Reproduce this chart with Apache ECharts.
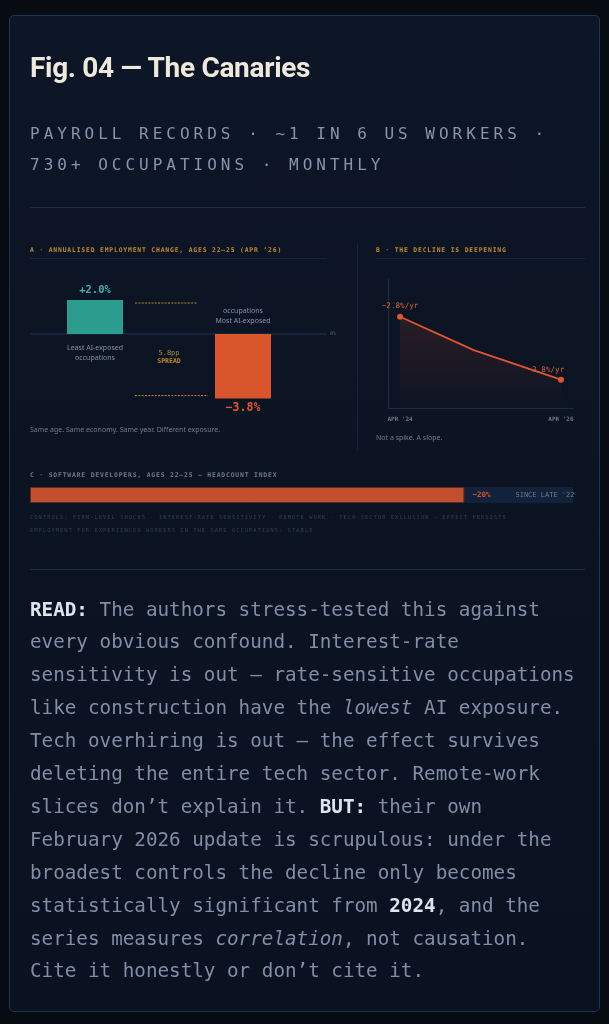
<!DOCTYPE html>
<html>
<head>
<meta charset="utf-8">
<script src="https://cdn.jsdelivr.net/npm/echarts@6.0.0/dist/echarts.min.js"></script>
<style>
html, body { margin: 0; padding: 0; width: 609px; height: 1024px; overflow: hidden; background: #070b12; }
#card { position: absolute; left: 9px; top: 15px; width: 589px; height: 995px; border: 1px solid #1f3352; border-radius: 5px;
  background: linear-gradient(#0d1626, #0a1120); }
#main { position: absolute; left: 0; top: 0; width: 609px; height: 1024px; z-index: 2; }
.t { position: absolute; white-space: nowrap; z-index: 3; }
.rule { position: absolute; z-index: 1; background: #1c2e48; }
.mono { font-family: "DejaVu Sans Mono", monospace; }
.h1 { left: 30px; top: 52px; font: 700 28px/32px Roboto, sans-serif; color: #efe9dc; letter-spacing: -0.3px; }
.sub { left: 30px; top: 117.5px; font-size: 16px; line-height: 31px; letter-spacing: 4px; color: #8596ad; }
.ptitle { font-size: 6.4px; line-height: 8px; letter-spacing: 0.82px; font-weight: 700; color: #c08a2c; }
.cap { font: 7px/10px "Noto Sans", sans-serif; color: #6f7b8d; }
.ctrl { font-size: 5.4px; line-height: 8px; letter-spacing: 1.05px; color: #2f3f56; }
.read { left: 30px; top: 593.5px; font-size: 19.25px; line-height: 32.9px; color: #828ea3; }
.read b { color: #dfe5ee; }
</style>
</head>
<body>
<div id="card"></div>

<div class="t h1">Fig. 04 — The Canaries</div>
<div class="t mono sub">PAYROLL RECORDS · ~1 IN 6 US WORKERS ·<br>730+ OCCUPATIONS · MONTHLY</div>
<div class="rule" style="left:30px;top:207px;width:555px;height:1px"></div>

<div class="t mono ptitle" style="left:30px;top:246px">A · ANNUALISED EMPLOYMENT CHANGE, AGES 22–25 (APR ’26)</div>
<div class="rule" style="left:30px;top:258px;width:297px;height:1px;background:#15243a"></div>
<div class="rule" style="left:357px;top:243px;width:1px;height:207px;background:#15243a"></div>
<div class="t mono ptitle" style="left:376px;top:246px">B · THE DECLINE IS DEEPENING</div>
<div class="rule" style="left:376px;top:258px;width:209px;height:1px;background:#15243a"></div>
<div class="t cap" style="left:30px;top:425px">Same age. Same economy. Same year. Different exposure.</div>
<div class="t cap" style="left:376px;top:433px">Not a spike. A slope.</div>

<div class="t mono ptitle" style="left:30px;top:471px;color:#6c788a">C · SOFTWARE DEVELOPERS, AGES 22–25 — HEADCOUNT INDEX</div>
<div class="t mono ctrl" style="left:30px;top:513px">CONTROLS: FIRM-LEVEL SHOCKS · INTEREST-RATE SENSITIVITY · REMOTE WORK · TECH-SECTOR EXCLUSION — EFFECT PERSISTS</div>
<div class="t mono ctrl" style="left:30px;top:526px">EMPLOYMENT FOR EXPERIENCED WORKERS IN THE SAME OCCUPATIONS: STABLE</div>
<div class="rule" style="left:30px;top:569px;width:555px;height:1px"></div>

<div class="t mono read"><b>READ:</b> The authors stress-tested this against<br>every obvious confound. Interest-rate<br>sensitivity is out — rate-sensitive occupations<br>like construction have the <i>lowest</i> AI exposure.<br>Tech overhiring is out — the effect survives<br>deleting the entire tech sector. Remote-work<br>slices don’t explain it. <b>BUT:</b> their own<br>February 2026 update is scrupulous: under the<br>broadest controls the decline only becomes<br>statistically significant from <b>2024</b>, and the<br>series measures <i>correlation</i>, not causation.<br>Cite it honestly or don’t cite it.</div>

<div id="main"></div>
<script>
// A: annualised employment change, ages 22-25 (Apr '26)
const groups = ['Least AI-exposed', 'spread', 'Most AI-exposed'];
const groupNotes = ['Least AI-exposed\noccupations', '', 'occupations\nMost AI-exposed'];
const changePct = [2.0, null, -3.8];

// B: the decline is deepening
const monthsSinceApr24 = [0, 11, 24];
const declinePerYr = [-2.8, -3.33, -3.8];
const monthTicks = [0, 24];
const monthTickLabels = ["APR '24", "APR '26"];

// C: software developers, headcount index
const devRows = ['Software developers, 22–25'];
const devIndex = [80];
const devBase = 100;

const MONO = 'DejaVu Sans Mono';
const SANS = 'Noto Sans';
const TEAL = '#2a9d8f', ORANGE = '#d9552b', AMBER = '#c08a2c';

function pct(v) {
    return (v > 0 ? '+' : '−') + Math.abs(v).toFixed(1) + '%';
}

const lastB = monthsSinceApr24.length - 1;

const option = {
    animation: false,
    grid: [
        { left: 58, top: 291.5, width: 222, height: 119, outerBoundsMode: 'none' },
        { left: 388, top: 279, width: 185, height: 129, outerBoundsMode: 'none' },
        { left: 30, top: 487, width: 543, height: 16, outerBoundsMode: 'none' }
    ],
    xAxis: [
        { gridIndex: 0, type: 'category', data: groups, show: false },
        {
            gridIndex: 1, type: 'value', min: -1.8, max: 25.8,
            axisLine: { show: true, onZero: false, lineStyle: { color: '#1b2b44', width: 1.2 } },
            axisTick: { show: false },
            splitLine: { show: false },
            axisLabel: {
                customValues: monthTicks,
                formatter: v => monthTickLabels[monthTicks.indexOf(v)] || '',
                color: '#6e7888', fontFamily: MONO, fontSize: 6, fontWeight: 'bold', margin: 8
            }
        },
        { gridIndex: 2, type: 'value', min: 0, max: devBase, show: false }
    ],
    yAxis: [
        { gridIndex: 0, type: 'value', min: -4.5, max: 2.5, show: false },
        {
            gridIndex: 1, type: 'value', min: -4.25, max: -2.2,
            axisLine: { show: true, onZero: false, lineStyle: { color: '#1b2b44', width: 1.2 } },
            axisTick: { show: false }, axisLabel: { show: false }, splitLine: { show: false }
        },
        { gridIndex: 2, type: 'category', data: devRows, show: false }
    ],
    series: [
        {
            name: 'change', type: 'bar', xAxisIndex: 0, yAxisIndex: 0,
            barWidth: 56, barGap: '-100%',
            data: changePct.map(v => v == null ? '-' : {
                value: v,
                itemStyle: { color: v > 0 ? TEAL : ORANGE },
                label: {
                    show: true, position: v > 0 ? 'top' : 'bottom', distance: v > 0 ? 4.5 : 3.5,
                    formatter: pct(v), fontFamily: MONO, fontSize: v > 0 ? 10.5 : 11.5, fontWeight: 'bold',
                    color: v > 0 ? '#3cb4a3' : '#e2562e'
                }
            })
        },
        {
            name: 'group', type: 'bar', xAxisIndex: 0, yAxisIndex: 0,
            barWidth: 56, barGap: '-100%', silent: true,
            itemStyle: { color: 'rgba(0,0,0,0)' },
            data: changePct.map((v, i) => v == null ? '-' : {
                value: v,
                label: {
                    show: true, position: v > 0 ? 'bottom' : 'top', distance: v > 0 ? 9 : 8,
                    formatter: groupNotes[i], fontFamily: SANS, fontSize: 7, lineHeight: 10,
                    color: '#8591a3'
                }
            })
        },
        {
            name: 'decline', type: 'line', xAxisIndex: 1, yAxisIndex: 1,
            symbolSize: 6, showSymbol: true,
            lineStyle: { color: '#e0552e', width: 1.8 },
            itemStyle: { color: '#e0552e' },
            areaStyle: {
                origin: 'start',
                color: {
                    type: 'linear', x: 0, y: 0, x2: 0, y2: 1,
                    colorStops: [
                        { offset: 0, color: 'rgba(224,85,46,0.2)' },
                        { offset: 1, color: 'rgba(224,85,46,0.02)' }
                    ]
                }
            },
            data: monthsSinceApr24.map((m, i) => {
                const ends = i === 0 || i === lastB;
                return {
                    value: [m, declinePerYr[i]],
                    symbol: ends ? 'circle' : 'none',
                    label: {
                        show: ends, position: 'top',
                        distance: i === 0 ? 3.5 : 2.5,
                        offset: i === 0 ? [0, 0] : [-15, 0],
                        formatter: pct(declinePerYr[i]) + '/yr',
                        fontFamily: MONO, fontSize: 7.6, color: '#d8613a'
                    }
                };
            })
        },
        {
            name: 'headcount', type: 'bar', xAxisIndex: 2, yAxisIndex: 2,
            barWidth: 16, showBackground: true,
            backgroundStyle: { color: '#12223a' },
            itemStyle: { color: '#c2502f', borderColor: '#5e2b1f', borderWidth: 1 },
            data: devIndex,
            label: {
                show: true, position: 'right', distance: 8,
                formatter: p => '{a|' + pct(p.value - devBase).replace('.0', '') + '}{b|SINCE LATE \'22}',
                rich: {
                    a: { fontFamily: MONO, fontSize: 7.5, fontWeight: 'bold', color: '#d4552c' },
                    b: { fontFamily: MONO, fontSize: 7, color: '#6e7888', padding: [0, 0, 0, 25] }
                }
            }
        }
    ]
};

const chart = echarts.init(document.getElementById('main'), null, { renderer: 'canvas' });
chart.setOption(option);

// reference lines for panel A, placed through the chart's own scales
const toPx = (cat, v) => chart.convertToPixel({ xAxisIndex: 0, yAxisIndex: 0 }, [cat, v]);
const y0 = toPx(0, 0)[1];
const midX = toPx(1, 0)[0];
const yHi = toPx(1, changePct[0])[1] + 3;
const yLo = toPx(1, changePct[2])[1] - 3;
const spread = (changePct[0] - changePct[2]).toFixed(1);
const dash = { stroke: AMBER, lineWidth: 1, lineDash: [2, 1.3] };

chart.setOption({
    graphic: [
        { type: 'line', silent: true, z: 1, shape: { x1: 30, y1: y0, x2: 327, y2: y0 }, style: { stroke: '#1f3556', lineWidth: 1.2 } },
        { type: 'text', silent: true, x: 330, y: y0, style: { text: '0%', fill: '#56627a', font: '5px ' + MONO, verticalAlign: 'middle' } },
        { type: 'line', silent: true, shape: { x1: midX - 34, y1: yHi, x2: midX + 28, y2: yHi }, style: dash },
        { type: 'line', silent: true, shape: { x1: midX - 34, y1: yLo, x2: midX + 39, y2: yLo }, style: dash },
        {
            type: 'text', silent: true, x: midX, y: (yHi + yLo) / 2 + 8,
            style: {
                text: '{n|' + spread + 'pp}\n{s|SPREAD}',
                align: 'center', verticalAlign: 'middle',
                rich: {
                    n: { font: '7px ' + MONO, fill: '#b98a3a', lineHeight: 9 },
                    s: { font: 'bold 6.5px ' + MONO, fill: AMBER, lineHeight: 9 }
                }
            }
        }
    ]
});
</script>
</body>
</html>
